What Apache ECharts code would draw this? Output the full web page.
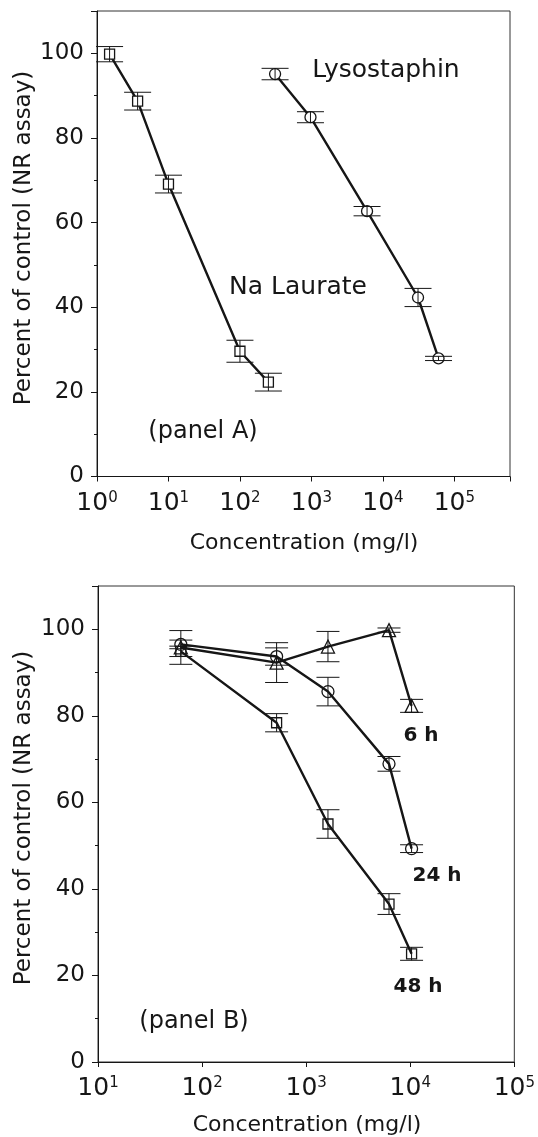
<!DOCTYPE html>
<html><head><meta charset="utf-8">
<script src="https://cdn.jsdelivr.net/npm/echarts@6/dist/echarts.min.js"></script>
<style>html,body{margin:0;padding:0;background:#fff}#c{width:538px;height:1137px}</style>
</head><body><div id="c"></div>
<script>
// ---- Panel A data ----
const laurateConc = [1.5, 3.7, 10, 100, 250];
const laurateVal  = [99.8, 88.7, 69.1, 29.6, 22.3];
const laurateErr  = [1.8, 2.1, 2.1, 2.6, 2.1];
const lysoConc = [310, 970, 6000, 31000, 60000];
const lysoVal  = [95.1, 84.9, 62.7, 42.3, 27.9];
const lysoErr  = [1.35, 1.3, 1.1, 2.15, 0.5];
// ---- Panel B data ----
const concB  = [62.5, 520, 1620, 6250, 10300];
const h6Val  = [95.8, 92.3, 96.0, 99.8, 82.3];
const h6Err  = [3.9, 4.6, 3.5, 0.5, 1.5];
const h24Val = [96.5, 93.7, 85.6, 68.9, 49.3];
const h24Err = [1.0, 2.0, 3.3, 1.7, 0.9];
const h48Val = [94.9, 78.4, 55.0, 36.5, 25.0];
const h48Err = [1.2, 2.1, 3.3, 2.4, 1.5];
const yTickValues = [0, 20, 40, 60, 80, 100];

const FONT = '"DejaVu Sans", sans-serif';
const INK = '#161616';

function pts(xs, ys) { return xs.map((x, i) => [x, ys[i]]); }
function errPts(xs, ys, es) { return xs.map((x, i) => [x, ys[i], es[i]]); }

function errRender(cap) {
  return function (params, api) {
    const x = api.value(0), y = api.value(1), e = api.value(2);
    const t = api.coord([x, y + e]);
    const b = api.coord([x, y - e]);
    const st = { stroke: INK, lineWidth: 1 };
    return { type: 'group', children: [
      { type: 'line', shape: { x1: t[0], y1: t[1], x2: b[0], y2: b[1] }, style: st },
      { type: 'line', shape: { x1: t[0] - cap, y1: t[1], x2: t[0] + cap, y2: t[1] }, style: st },
      { type: 'line', shape: { x1: b[0] - cap, y1: b[1], x2: b[0] + cap, y2: b[1] }, style: st }
    ]};
  };
}

function xAxisCfg(idx, min, max) {
  return {
    gridIndex: idx, type: 'log', logBase: 10, min: min, max: max,
    axisLine: { show: true, lineStyle: { color: INK, width: 1 } },
    axisTick: { show: true, inside: false, length: 5, lineStyle: { color: INK } },
    splitLine: { show: false },
    axisLabel: {
      margin: 14,
      formatter: function (v) {
        const e = Math.log10(v);
        if (Math.abs(e - Math.round(e)) > 1e-6) return '';
        return '{b|10}{s|' + Math.round(e) + '}';
      },
      rich: {
        b: { fontSize: 25, fontFamily: FONT, color: INK },
        s: { fontSize: 15, fontFamily: FONT, color: INK, verticalAlign: 'top' }
      }
    }
  };
}
function yAxisCfg(idx) {
  return {
    gridIndex: idx, type: 'value', min: 0, max: 110, interval: 20,
    axisLine: { show: true, lineStyle: { color: INK, width: 1 } },
    axisTick: { show: true, inside: false, length: 6, lineStyle: { color: INK } },
    minorTick: { show: true, splitNumber: 2, length: 3, lineStyle: { color: INK } },
    splitLine: { show: false },
    axisLabel: {
      margin: 13, fontSize: 23, fontFamily: FONT, color: INK,
      formatter: function (v) { return yTickValues.indexOf(v) >= 0 ? String(v) : ''; }
    }
  };
}
function lineSeries(name, xi, data, symbol, size, fill) {
  return {
    name: name, type: 'line', xAxisIndex: xi, yAxisIndex: xi, data: data,
    symbol: symbol, symbolSize: size, showAllSymbol: true,
    lineStyle: { color: INK, width: 2.4 },
    itemStyle: { color: fill, borderColor: INK, borderWidth: 1.3 },
    emphasis: { disabled: true }, z: 2
  };
}
function errSeries(xi, data, cap) {
  return {
    type: 'custom', xAxisIndex: xi, yAxisIndex: xi, data: data,
    dimensions: ['x', 'y', 'e'], encode: { x: 0, y: 1 },
    renderItem: errRender(cap), z: 3, silent: true
  };
}
function txt(x, y, text, size, opts) {
  opts = opts || {};
  return {
    type: 'text', x: x, y: y, rotation: opts.rot || 0, z: 10,
    style: {
      text: text, fill: INK, align: 'center', verticalAlign: 'middle',
      font: (opts.bold ? 'bold ' : '') + size + 'px ' + FONT
    }
  };
}

const chart = echarts.init(document.getElementById('c'), null, { renderer: 'canvas' });
chart.setOption({
  backgroundColor: '#ffffff',
  animation: false,
  grid: [
    { left: 97, right: 28, top: 11, height: 465.5, show: true, borderColor: '#333', borderWidth: 1, backgroundColor: 'transparent' },
    { left: 98, right: 21, top: 586, height: 476, show: true, borderColor: '#333', borderWidth: 1, backgroundColor: 'transparent' }
  ],
  xAxis: [xAxisCfg(0, 1, 6e5), xAxisCfg(1, 10, 1e5)],
  yAxis: [yAxisCfg(0), yAxisCfg(1)],
  series: [
    lineSeries('Na Laurate', 0, pts(laurateConc, laurateVal), 'rect', 10, '#fff'),
    lineSeries('Lysostaphin', 0, pts(lysoConc, lysoVal), 'circle', 11, '#fff'),
    errSeries(0, errPts(laurateConc, laurateVal, laurateErr), 13.5),
    errSeries(0, errPts(lysoConc, lysoVal, lysoErr), 13.5),
    lineSeries('48 h', 1, pts(concB, h48Val), 'rect', 10, 'rgba(0,0,0,0)'),
    lineSeries('24 h', 1, pts(concB, h24Val), 'circle', 12, 'rgba(0,0,0,0)'),
    lineSeries('6 h', 1, pts(concB, h6Val), 'triangle', 13, 'rgba(0,0,0,0)'),
    errSeries(1, errPts(concB, h48Val, h48Err), 11.5),
    errSeries(1, errPts(concB, h24Val, h24Err), 11.5),
    errSeries(1, errPts(concB, h6Val, h6Err), 11.5)
  ],
  graphic: [
    txt(386, 70, 'Lysostaphin', 25),
    txt(298, 287, 'Na Laurate', 25),
    txt(203, 432, '(panel A)', 24),
    txt(24, 238, 'Percent of control (NR assay)', 23, { rot: Math.PI / 2 }),
    txt(304, 543, 'Concentration (mg/l)', 22),
    txt(421, 736, '6 h', 20, { bold: true }),
    txt(437, 876, '24 h', 20, { bold: true }),
    txt(418, 987, '48 h', 20, { bold: true }),
    txt(194, 1022, '(panel B)', 24),
    txt(24, 818, 'Percent of control (NR assay)', 23, { rot: Math.PI / 2 }),
    txt(307, 1125, 'Concentration (mg/l)', 22)
  ]
});
</script>
</body></html>
